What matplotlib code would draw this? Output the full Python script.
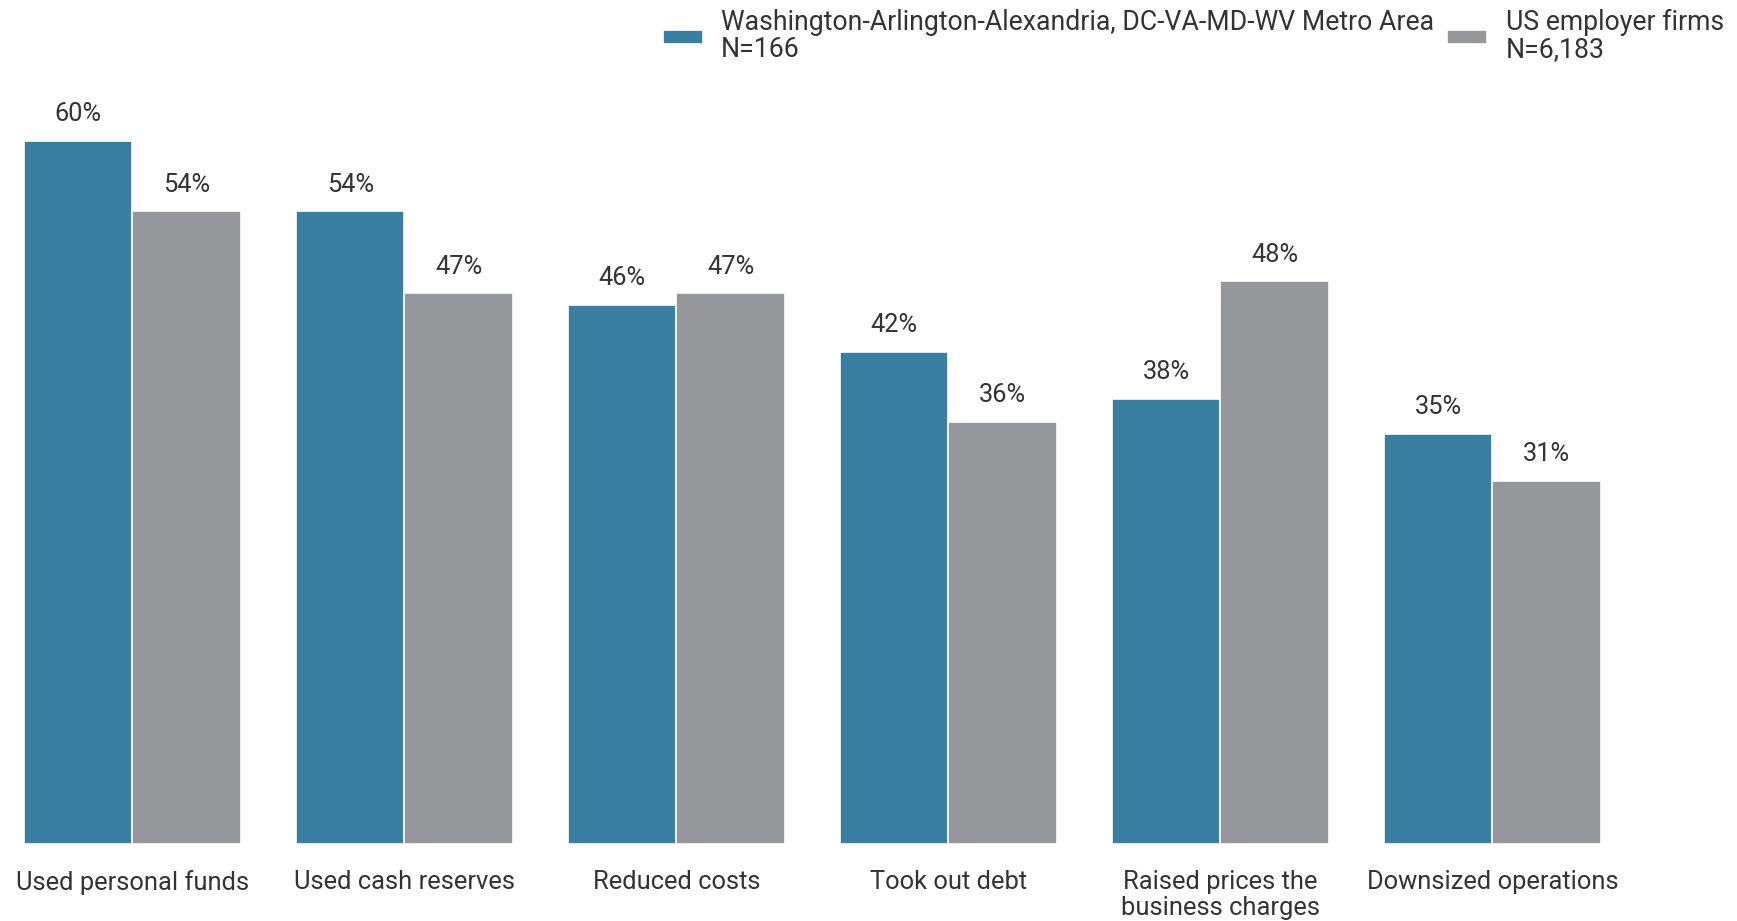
import matplotlib.pyplot as plt
import numpy as np

plt.rcParams['font.family'] = ['Roboto', 'DejaVu Sans']

# data
categories = ['Used personal funds', 'Used cash reserves', 'Reduced costs',
              'Took out debt', 'Raised prices the\nbusiness charges', 'Downsized operations']
metro_vals = [60, 54, 46, 42, 38, 35]
us_vals = [54, 47, 47, 36, 48, 31]
series_names = ['Washington-Arlington-Alexandria, DC-VA-MD-WV Metro Area\nN=166',
                'US employer firms\nN=6,183']

BLUE = '#3A7EA1'
GRAY = '#96979B'
TXT = '#333333'

fig = plt.figure(figsize=(17.37, 9.21), dpi=100)
W, H = 1737, 921
PX_PER_UNIT = 11.72
GROUP_PX = 272.0   # distance between group centres
FIRST_PX = 132.4   # centre of the first group
# axes spans the full width; zero line sits 77 px above the bottom
ax = fig.add_axes([0, 77 / H, 1, 760 / H])

x = np.arange(len(categories))
w = 0.399
b1 = ax.bar(x - w / 2, metro_vals, w, color=BLUE, edgecolor='white', linewidth=1.2,
            label=series_names[0])
b2 = ax.bar(x + w / 2, us_vals, w, color=GRAY, edgecolor='white', linewidth=1.2,
            label=series_names[1])

for bars, vals in ((b1, metro_vals), (b2, us_vals)):
    for r, v in zip(bars, vals):
        ax.annotate(f'{v}%', (r.get_x() + r.get_width() / 2, v), xytext=(0, 10.5),
                    textcoords='offset points', ha='center', va='bottom',
                    fontsize=18.3, color=TXT)

ax.set_xlim(-FIRST_PX / GROUP_PX, (W - FIRST_PX) / GROUP_PX)
ax.set_ylim(0, 760 / PX_PER_UNIT)
ax.set_xticks(x)
ax.set_xticklabels(categories, fontsize=18.4, color=TXT, linespacing=1.1)
ax.tick_params(axis='x', length=0, pad=19)
ax.set_yticks([])
for s in ax.spines.values():
    s.set_visible(False)

leg = fig.legend(loc='upper right', bbox_to_anchor=(1.0, 1.005), ncol=2, frameon=False,
                 fontsize=19.2, handlelength=1.5, handleheight=0.45, handletextpad=0.7,
                 columnspacing=0.47, labelcolor=TXT, borderaxespad=0.1, labelspacing=0.2)
for t in leg.get_texts():
    t.set_linespacing(1.0)

fig.savefig('out.png', dpi=100, facecolor='white')
